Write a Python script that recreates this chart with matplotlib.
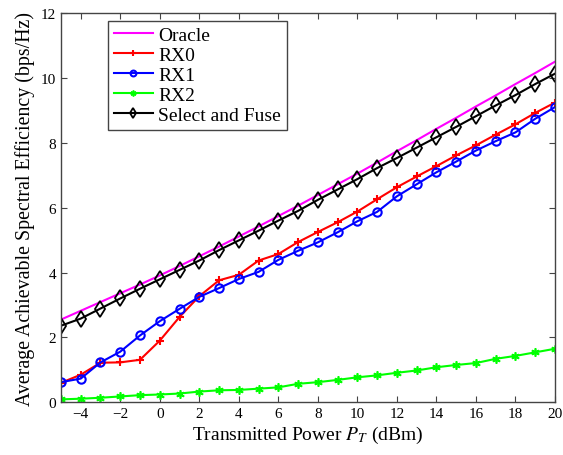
import matplotlib
matplotlib.use("Agg")
import matplotlib.pyplot as plt
import numpy as np

# transmitted power (dBm)
power = list(range(-5, 21))

# spectral efficiency (bps/Hz)
oracle = [2.55, 2.82, 3.09, 3.36, 3.63, 3.91, 4.20, 4.50, 4.80, 5.11, 5.42, 5.74, 6.06,
          6.39, 6.72, 7.05, 7.39, 7.74, 8.08, 8.43, 8.77, 9.12, 9.46, 9.81, 10.15, 10.50]
rx0 = [0.60, 0.85, 1.22, 1.23, 1.31, 1.90, 2.63, 3.27, 3.76, 3.93, 4.37, 4.57, 4.94,
       5.25, 5.55, 5.88, 6.26, 6.63, 6.96, 7.28, 7.61, 7.92, 8.25, 8.57, 8.92, 9.24]
rx1 = [0.62, 0.73, 1.23, 1.56, 2.06, 2.50, 2.88, 3.25, 3.52, 3.80, 4.02, 4.39, 4.67,
       4.93, 5.24, 5.58, 5.87, 6.35, 6.72, 7.09, 7.42, 7.76, 8.05, 8.32, 8.74, 9.10]
rx2 = [0.09, 0.11, 0.14, 0.18, 0.22, 0.24, 0.27, 0.33, 0.37, 0.38, 0.42, 0.46, 0.57,
       0.62, 0.69, 0.77, 0.83, 0.91, 0.98, 1.08, 1.15, 1.21, 1.34, 1.43, 1.54, 1.65]
fuse = [2.36, 2.58, 2.89, 3.20, 3.50, 3.79, 4.08, 4.37, 4.69, 4.99, 5.29, 5.60, 5.90,
        6.24, 6.56, 6.88, 7.22, 7.53, 7.85, 8.17, 8.49, 8.82, 9.15, 9.47, 9.81, 10.13]

plt.rcParams['font.family'] = ['Liberation Serif', 'DejaVu Serif']
plt.rcParams['mathtext.fontset'] = 'stix'

fig = plt.figure(figsize=(5.63, 4.56), dpi=100)
ax = fig.add_axes([0.1083, 0.1156, 0.8775, 0.8537])

ax.plot(power, oracle, color='#ff00ff', lw=1.5, label='Oracle')
ax.plot(power, rx0, color='red', lw=1.5, marker='+', ms=6, mew=1.5, label='RX0')
ax.plot(power, rx1, color='blue', lw=1.5, marker='o', ms=6, mew=1.5, mfc='none', label='RX1')
ax.plot(power, rx2, color='#00ff00', lw=1.5, marker=(6, 2, 0), ms=6, mew=1.2, label='RX2')
ax.plot(power, fuse, color='black', lw=1.5, marker='d', ms=8, mew=1.3, mfc='none',
        label='Select and Fuse')

ax.set_xlim(-5, 20)
ax.set_ylim(0, 12)
ax.set_xticks(np.arange(-4, 21, 2))
ax.set_yticks(np.arange(0, 13, 2))
ax.tick_params(direction='in', top=True, right=True, labelsize=11, length=4, width=0.8,
               color='#444444')
for s in ax.spines.values():
    s.set_color('#444444')
    s.set_linewidth(1.0)

ax.set_xlabel('Transmitted Power $P_T$ (dBm)', fontsize=14, labelpad=3)
ax.set_ylabel('Average Achievable Spectral Efficiency (bps/Hz)', fontsize=14.3, labelpad=4)

leg = ax.legend(loc='upper left', bbox_to_anchor=(0.095, 0.98), borderaxespad=0,
                fontsize=14, fancybox=False, framealpha=1, edgecolor='#444444',
                handlelength=2.0, handletextpad=0.3, labelspacing=0.12, borderpad=0.3,
                markerscale=0.7)
leg.get_frame().set_linewidth(1.0)

fig.savefig('out.png', dpi=100)
